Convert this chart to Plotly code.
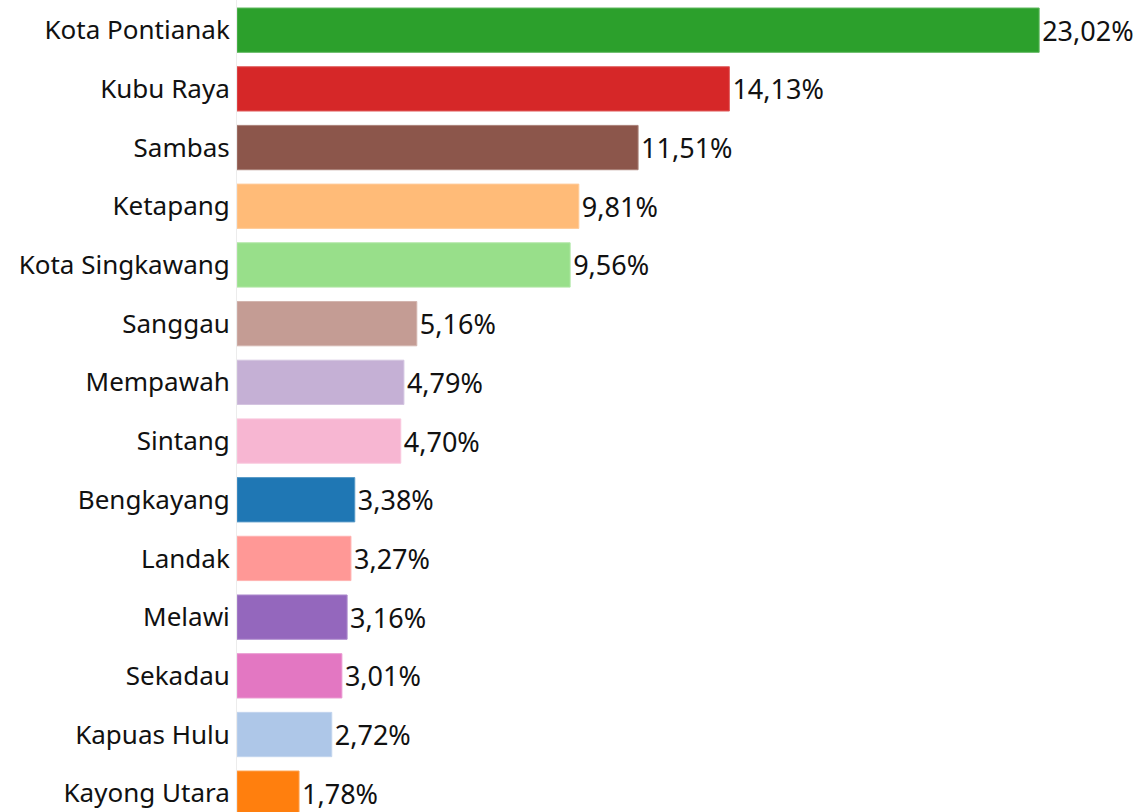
import plotly.graph_objects as go

# Share of each regency/city (percent)
regions = [
    "Kota Pontianak", "Kubu Raya", "Sambas", "Ketapang", "Kota Singkawang",
    "Sanggau", "Mempawah", "Sintang", "Bengkayang", "Landak", "Melawi",
    "Sekadau", "Kapuas Hulu", "Kayong Utara",
]
shares = [23.02, 14.13, 11.51, 9.81, 9.56, 5.16, 4.79, 4.70, 3.38, 3.27,
          3.16, 3.01, 2.72, 1.78]
bar_colors = [
    "#2ca02c", "#d62728", "#8c564b", "#ffbb78", "#98df8a", "#c49c94",
    "#c5b0d5", "#f7b6d2", "#1f77b4", "#ff9896", "#9467bd", "#e377c2",
    "#aec7e8", "#ff7f0e",
]


def lighten(hex_color, amount=0.25):
    r, g, b = (int(hex_color[i:i + 2], 16) for i in (1, 3, 5))
    r, g, b = (round(c + (255 - c) * amount) for c in (r, g, b))
    return f"rgb({r},{g},{b})"


labels = [f"{v:.2f}".replace(".", ",") + "%" for v in shares]

FONT = "Noto Sans"

fig = go.Figure(
    go.Bar(
        x=shares,
        y=regions,
        orientation="h",
        marker=dict(
            color=bar_colors,
            line=dict(color=[lighten(c) for c in bar_colors], width=1),
        ),
        text=labels,
        textposition="outside",
        textfont=dict(family=FONT, size=27, color="#111"),
        cliponaxis=False,
        constraintext="none",
        hoverinfo="skip",
    )
)

fig.update_layout(
    width=1143,
    height=812,
    margin=dict(l=237, r=0, t=0, b=0),
    plot_bgcolor="white",
    paper_bgcolor="white",
    bargap=0.245,
    showlegend=False,
    font=dict(family=FONT, size=26, color="#111"),
)
fig.update_xaxes(
    range=[0, 26.0],
    showgrid=False,
    zeroline=False,
    showticklabels=False,
    showline=False,
)
fig.update_yaxes(
    categoryorder="array",
    categoryarray=regions,
    range=[13.32, -0.514],
    showgrid=False,
    zeroline=False,
    showline=True,
    linecolor="#ececec",
    linewidth=1,
    ticks="",
    ticklabelstandoff=1,
    tickfont=dict(family=FONT, size=26, color="#111"),
)

fig.write_html("out.html")
